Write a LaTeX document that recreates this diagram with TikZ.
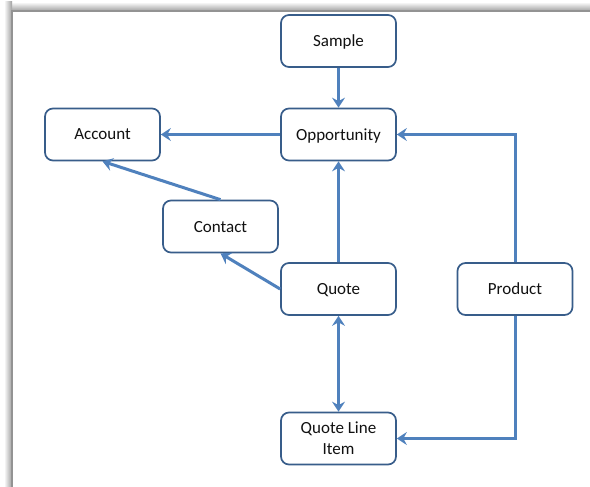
\documentclass[tikz,border=0pt]{standalone}
\usepackage{fontspec}
\setmainfont{Carlito}
\usetikzlibrary{arrows.meta}
\definecolor{conn}{HTML}{4F81BD}
\definecolor{boxline}{HTML}{385D8A}
\definecolor{txt}{HTML}{111111}
\begin{document}
\begin{tikzpicture}[x=1bp,y=-1bp,
  entity/.style={draw=boxline, line width=1.7bp, rounded corners=8bp, fill=white,
    minimum width=115bp, minimum height=52bp, inner sep=0pt, align=center,
    text depth=0pt, font=\fontsize{17bp}{21bp}\selectfont, text=txt},
  link/.style={draw=conn, line width=3bp, -{Stealth[length=10bp,width=13bp,inset=3.5bp]}},
  dlink/.style={draw=conn, line width=3bp, {Stealth[length=10bp,width=13bp,inset=3.5bp]}-{Stealth[length=10bp,width=13bp,inset=3.5bp]}}
]
\useasboundingbox (0,0) rectangle (590,487);
\fill[white] (0,0) rectangle (590,487);
% frame shadow (top and left)
\shade[top color=white, bottom color=gray!75] (4,2) rectangle (590,11);
\shade[left color=white, right color=gray!75] (4,2) rectangle (12,487);
\draw[gray!85, line width=1.4bp] (12,487) -- (12,11) -- (590,11);

\node[entity] (sample) at (338.5,41) {Sample};
\node[entity] (opp) at (338.5,134.5) {Opportunity};
\node[entity] (acc) at (102.5,134.5) {Account};
\node[entity] (contact) at (220.5,226.5) {Contact};
\node[entity] (quote) at (338.5,289) {Quote};
\node[entity] (product) at (515,289) {Product};
\node[entity] (qli) at (338.5,438.5) {Quote Line\\Item};

\draw[link] (sample) -- (opp);
\draw[link] (opp) -- (acc);
\draw[link] (contact.north) -- (acc.south);
\draw[link] (quote.west) -- (contact.south);
\draw[link] (quote) -- (opp);
\draw[dlink] (quote) -- (qli);
\draw[link] (product.north) |- (opp.east);
\draw[link] (product.south) |- (qli.east);
\end{tikzpicture}
\end{document}
